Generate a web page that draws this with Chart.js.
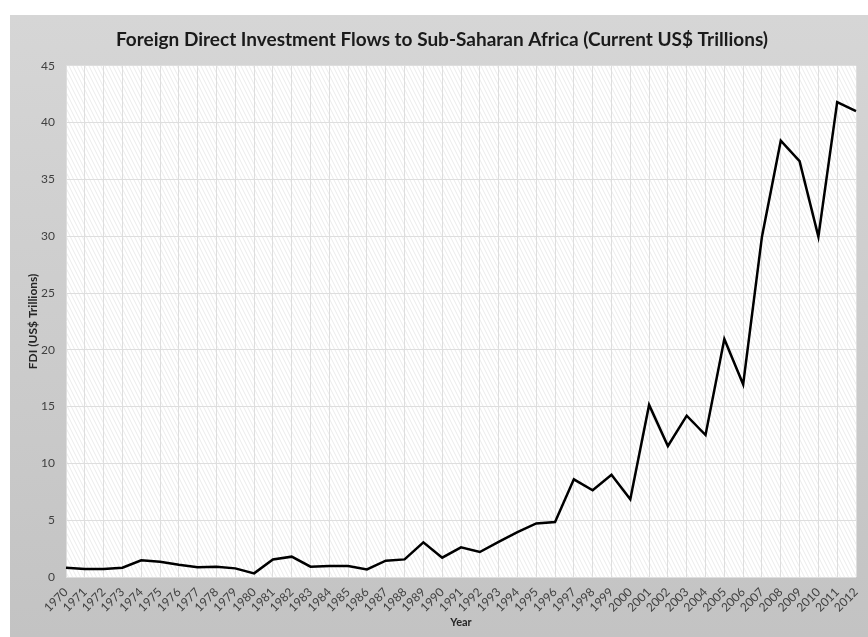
<!DOCTYPE html>
<html>
<head>
<meta charset="utf-8">
<script src="https://cdn.jsdelivr.net/npm/chart.js@4/dist/chart.umd.min.js"></script>
<style>
  body { margin: 0; background: #fff; }
  canvas { display: block; }
</style>
</head>
<body>
<canvas id="fdi-chart" width="868" height="637"></canvas>
<script>
const years = [];
for (let y = 1970; y <= 2012; y++) years.push(String(y));

// FDI inflows, US$ trillions
const fdi = [
  0.82, 0.70, 0.70, 0.82, 1.47, 1.35, 1.08, 0.85, 0.90, 0.76,
  0.32, 1.55, 1.79, 0.91, 0.97, 0.97, 0.67, 1.44, 1.55, 3.05,
  1.70, 2.61, 2.20, 3.10, 3.95, 4.72, 4.84, 8.60, 7.63, 9.00,
  6.84, 15.15, 11.53, 14.20, 12.50, 20.95, 16.96, 29.96, 38.40, 36.60,
  29.96, 41.80, 41.00
];

const yMin = 0, yMax = 45, yStep = 5;

// fine diagonal hatch for the plot area
function makeHatch() {
  const c = document.createElement('canvas');
  c.width = 4; c.height = 8;
  const g = c.getContext('2d');
  g.fillStyle = '#ffffff';
  g.fillRect(0, 0, 4, 8);
  g.strokeStyle = '#ebebeb';
  g.lineWidth = 1;
  for (const ox of [-4, 0, 4]) {
    g.beginPath();
    g.moveTo(ox, 0);
    g.lineTo(ox + 4, 8);
    g.stroke();
  }
  return g.createPattern(c, 'repeat');
}

const backdrop = {
  id: 'backdrop',
  afterLayout(chart) {
    // nudge the title a little right, over the middle of the grey panel
    const t = chart.titleBlock;
    if (t) { t.left += 14; t.right += 14; }
  },
  beforeDraw(chart) {
    const ctx = chart.ctx, a = chart.chartArea;
    ctx.save();
    const grad = ctx.createLinearGradient(0, 15, 0, chart.height);
    grad.addColorStop(0, '#d6d6d6');
    grad.addColorStop(1, '#c3c3c3');
    ctx.fillStyle = grad;
    ctx.fillRect(10, 15, chart.width - 10, chart.height - 15);
    ctx.fillStyle = makeHatch();
    ctx.fillRect(a.left, a.top, a.right - a.left, a.bottom - a.top);
    ctx.restore();
  }
};

const font = "Lato, 'Open Sans', sans-serif";

new Chart(document.getElementById('fdi-chart'), {
  type: 'line',
  data: {
    labels: years,
    datasets: [{
      label: 'FDI',
      data: fdi,
      borderColor: '#000000',
      borderWidth: 2.5,
      pointRadius: 0,
      tension: 0,
      fill: false
    }]
  },
  options: {
    responsive: false,
    animation: false,
    layout: { padding: { left: 0, right: 12, top: 0, bottom: 0 } },
    plugins: {
      legend: { display: false },
      tooltip: { enabled: false },
      title: {
        display: true,
        text: 'Foreign Direct Investment Flows to Sub-Saharan Africa (Current US$ Trillions)',
        color: '#1a1a1a',
        font: { family: font, size: 19, weight: 'bold', lineHeight: 1.2 },
        padding: { top: 28, bottom: 15 }
      }
    },
    scales: {
      x: {
        grid: { color: '#dedede', lineWidth: 1, drawTicks: false },
        border: { display: false },
        ticks: {
          autoSkip: false,
          minRotation: 45,
          maxRotation: 45,
          padding: 8,
          color: '#404040',
          font: { family: font, size: 12 }
        },
        title: {
          display: true,
          text: 'Year',
          color: '#262626',
          font: { family: font, size: 11, weight: 'bold' },
          padding: { top: 0, bottom: 8 }
        },
        afterFit(scale) {
          scale.height = 60;
          scale.paddingLeft = 0;
          scale.paddingRight = 0;
        }
      },
      y: {
        min: yMin,
        max: yMax,
        grid: { color: '#dedede', lineWidth: 1, drawTicks: false },
        border: { display: false },
        ticks: {
          stepSize: yStep,
          padding: 11,
          color: '#404040',
          font: { family: font, size: 12 }
        },
        title: {
          display: true,
          text: 'FDI (US$ Trillions)',
          color: '#262626',
          font: { family: font, size: 12, weight: 'bold' },
          padding: { top: 26, bottom: 0 }
        },
        afterFit(scale) {
          scale.width = 66;
        }
      }
    }
  },
  plugins: [backdrop]
});
</script>
</body>
</html>
